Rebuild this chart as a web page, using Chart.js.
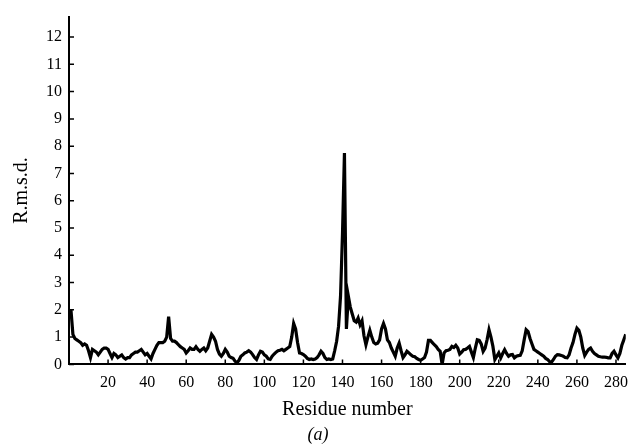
<!DOCTYPE html>
<html>
<head>
<meta charset="utf-8">
<script src="https://cdn.jsdelivr.net/npm/chart.js@4/dist/chart.umd.min.js"></script>
<style>
  body { margin: 0; background: #fff; }
</style>
</head>
<body>
<canvas id="chart1" width="637" height="446"></canvas>
<script>
// r.m.s.d. per residue, residues 1..285
const rmsd = [
    2.0, 1.1, 0.95, 0.9, 0.85, 0.8, 0.7, 0.75, 0.7, 0.5,
    0.25, 0.55, 0.5, 0.45, 0.35, 0.45, 0.55, 0.6, 0.6, 0.55,
    0.4, 0.25, 0.4, 0.35, 0.25, 0.3, 0.35, 0.25, 0.2, 0.25,
    0.25, 0.35, 0.4, 0.45, 0.45, 0.5, 0.55, 0.45, 0.35, 0.4,
    0.3, 0.2, 0.4, 0.55, 0.7, 0.8, 0.8, 0.8, 0.85, 1.0,
    1.75, 0.95, 0.85, 0.85, 0.8, 0.72, 0.65, 0.6, 0.55, 0.42,
    0.5, 0.6, 0.55, 0.55, 0.65, 0.55, 0.48, 0.55, 0.6, 0.5,
    0.6, 0.85, 1.1, 1.0, 0.85, 0.55, 0.38, 0.3, 0.4, 0.55,
    0.45, 0.3, 0.25, 0.22, 0.12, 0.06, 0.15, 0.3, 0.35, 0.42,
    0.45, 0.5, 0.45, 0.36, 0.25, 0.18, 0.35, 0.48, 0.45, 0.35,
    0.3, 0.2, 0.18, 0.3, 0.38, 0.45, 0.5, 0.52, 0.55, 0.5,
    0.55, 0.6, 0.65, 1.0, 1.5, 1.3, 0.8, 0.42, 0.4, 0.36,
    0.3, 0.22, 0.18, 0.2, 0.18, 0.2, 0.25, 0.35, 0.48, 0.4,
    0.25, 0.18, 0.2, 0.18, 0.2, 0.5, 0.85, 1.4, 2.5, 4.8,
    7.75, 1.3, 2.5, 2.1, 1.85, 1.6, 1.55, 1.7, 1.45, 1.6,
    1.05, 0.72, 1.0, 1.25, 1.0, 0.8, 0.75, 0.78, 0.9, 1.3,
    1.5, 1.3, 0.9, 0.8, 0.6, 0.45, 0.3, 0.6, 0.78, 0.5,
    0.25, 0.35, 0.48, 0.42, 0.35, 0.3, 0.28, 0.22, 0.18, 0.15,
    0.2, 0.25, 0.45, 0.88, 0.88, 0.8, 0.72, 0.65, 0.55, 0.48,
    0.0, 0.42, 0.5, 0.52, 0.55, 0.66, 0.62, 0.7, 0.6, 0.38,
    0.45, 0.54, 0.55, 0.6, 0.66, 0.45, 0.25, 0.6, 0.9, 0.88,
    0.75, 0.48, 0.6, 0.9, 1.27, 1.0, 0.66, 0.18, 0.3, 0.42,
    0.24, 0.4, 0.54, 0.4, 0.3, 0.35, 0.36, 0.24, 0.3, 0.32,
    0.33, 0.5, 0.9, 1.27, 1.2, 0.95, 0.75, 0.55, 0.5, 0.45,
    0.4, 0.35, 0.3, 0.22, 0.18, 0.1, 0.08, 0.18, 0.3, 0.36,
    0.35, 0.33, 0.3, 0.25, 0.24, 0.35, 0.6, 0.8, 1.1, 1.33,
    1.25, 1.0, 0.6, 0.33, 0.45, 0.55, 0.6, 0.48, 0.4, 0.35,
    0.3, 0.28, 0.27, 0.27, 0.26, 0.24, 0.24, 0.4, 0.48, 0.35,
    0.24, 0.4, 0.7, 0.9, 1.1
];
const residues = rmsd.map((v, i) => i + 1);

const xTicks = [20, 40, 60, 80, 100, 120, 140, 160, 180, 200, 220, 240, 260, 280];
const yTicks = [0, 1, 2, 3, 4, 5, 6, 7, 8, 9, 10, 11, 12];

const serif = "'Liberation Serif', 'DejaVu Serif', serif";

// tick marks point into the plot, like the printed figure
const inwardTicks = {
    id: 'inwardTicks',
    afterDatasetsDraw(chart) {
        const { ctx, scales: { x, y } } = chart;
        ctx.save();
        ctx.strokeStyle = '#000';
        ctx.lineWidth = 1.5;
        ctx.beginPath();
        x.ticks.forEach(t => {
            const px = x.getPixelForValue(t.value);
            ctx.moveTo(px, x.top);
            ctx.lineTo(px, x.top - 5);
        });
        y.ticks.forEach(t => {
            const py = y.getPixelForValue(t.value);
            ctx.moveTo(y.right, py);
            ctx.lineTo(y.right + 5, py);
        });
        ctx.stroke();
        ctx.restore();
    }
};

const ctx = document.getElementById("chart1").getContext("2d");

const config = {
    type: 'line',
    data: {
        datasets: [{
            data: residues.map((r, i) => ({ x: r, y: rmsd[i] })),
            borderColor: '#000',
            borderWidth: 3.2,
            pointRadius: 0,
            tension: 0,
            fill: false,
        }],
    },
    options: {
        responsive: false,
        animation: false,
        layout: { padding: { top: 10, right: 1, left: 0, bottom: 0 } },
        scales: {
            x: {
                type: 'linear',
                min: 0,
                max: 285,
                afterBuildTicks: scale => {
                    scale.ticks = xTicks.map(v => ({ value: v }));
                },
                afterFit: scale => { scale.height = 55; },
                grid: { display: false, drawTicks: false },
                border: { display: true, color: '#000', width: 2 },
                ticks: {
                    color: '#000',
                    padding: 9,
                    maxRotation: 0,
                    font: { family: serif, size: 16 },
                },
                title: {
                    display: true,
                    text: 'Residue number',
                    color: '#000',
                    padding: { top: 0, bottom: -2 },
                    font: { family: serif, size: 20 },
                },
            },
            y: {
                min: 0,
                max: 12.75,
                afterBuildTicks: scale => {
                    scale.ticks = yTicks.map(v => ({ value: v }));
                },
                afterFit: scale => { scale.width = 69; },
                grid: { display: false, drawTicks: false },
                border: { display: true, color: '#000', width: 2 },
                ticks: {
                    color: '#000',
                    padding: 7,
                    font: { family: serif, size: 16 },
                },
                title: {
                    display: true,
                    text: 'R.m.s.d.',
                    color: '#000',
                    padding: { top: 10, bottom: 0 },
                    font: { family: serif, size: 20 },
                },
            },
        },
        plugins: {
            legend: { display: false },
            tooltip: { enabled: false },
            title: {
                display: true,
                position: 'bottom',
                text: '(a)',
                color: '#000',
                padding: { top: 5, bottom: 0 },
                font: { family: serif, size: 18, style: 'italic', weight: 'normal' },
            },
        },
    },
    plugins: [inwardTicks],
};

const newChart = new Chart(ctx, config);
</script>
</body>
</html>
